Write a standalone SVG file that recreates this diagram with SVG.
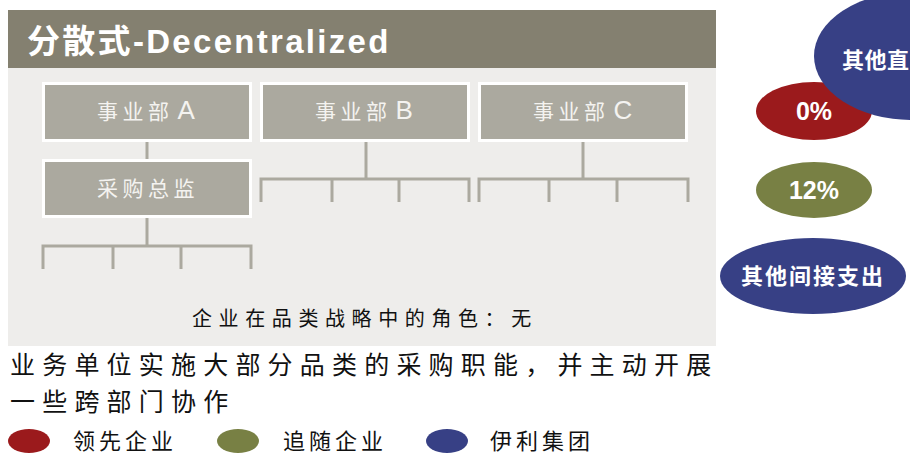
<svg xmlns="http://www.w3.org/2000/svg" width="910" height="454" viewBox="0 0 910 454">
<style>
.box{fill:#ABA99F;stroke:#FFFFFF;stroke-width:3}
.boxt{font-family:"Noto Sans CJK SC","Liberation Sans",sans-serif;font-size:21px;fill:#F4F3F0;letter-spacing:4.5px}
.lat{font-family:"Liberation Sans",sans-serif;font-size:26px;letter-spacing:0}
.ln{stroke:#ABA99F;stroke-width:3;fill:none}
.wb{font-family:"Liberation Sans","Noto Sans CJK SC",sans-serif;font-weight:bold;fill:#FFFFFF}
.bk{font-family:"Noto Sans CJK SC",sans-serif;fill:#111111}
</style>
<rect x="8" y="68" width="708" height="278" fill="#EEEDEB"/>
<rect x="8" y="10" width="708" height="58" fill="#848070"/>
<text x="27" y="53" class="wb" font-size="33" letter-spacing="2.3">分散式-Decentralized</text>

<g id="connectors">
<path class="ln" d="M147 141V160 M147 217V246 M43 246H251 M43 244.5V269 M113 246V269 M181 246V269 M251 244.5V269"/>
<path class="ln" d="M366 141V179 M261 179H469 M261 177.5V202 M332 179V202 M399 179V202 M469 177.5V202"/>
<path class="ln" d="M583 141V179 M479 179H688 M479 177.5V202 M549 179V202 M617 179V202 M688 177.5V202"/>
</g>

<g id="nodeA"><rect class="box" x="43.5" y="83.5" width="207" height="57"/><text class="boxt" x="97" y="119">事业部<tspan class="lat" dx="4">A</tspan></text></g>
<g id="nodeB"><rect class="box" x="261.5" y="83.5" width="207" height="57"/><text class="boxt" x="315" y="119">事业部<tspan class="lat" dx="4">B</tspan></text></g>
<g id="nodeC"><rect class="box" x="479.5" y="83.5" width="207" height="57"/><text class="boxt" x="533" y="119">事业部<tspan class="lat" dx="4">C</tspan></text></g>
<g id="nodeP"><rect class="box" x="43.5" y="160.5" width="207" height="56"/><text class="boxt" x="97" y="196">采购总监</text></g>

<text class="bk" x="192" y="326" font-size="20" letter-spacing="6.6">企业在品类战略中的角色：无</text>
<text class="bk" x="10" y="374" font-size="25" letter-spacing="7.2">业务单位实施大部分品类的采购职能，并主动开展</text>
<text class="bk" x="10" y="410.5" font-size="25" letter-spacing="7.2">一些跨部门协作</text>

<g id="legend">
<ellipse cx="29" cy="441" rx="21" ry="12" fill="#9B1A1C"/>
<text class="bk" x="73" y="449" font-size="22" letter-spacing="4">领先企业</text>
<ellipse cx="238" cy="441" rx="21" ry="12" fill="#788044"/>
<text class="bk" x="283" y="449" font-size="22" letter-spacing="4">追随企业</text>
<ellipse cx="447" cy="441" rx="21" ry="12" fill="#374085"/>
<text class="bk" x="490" y="449" font-size="22" letter-spacing="4">伊利集团</text>
</g>

<g id="red"><ellipse cx="814" cy="111" rx="58" ry="29" fill="#9B1A1C"/><text class="wb" x="814" y="120" font-size="25" text-anchor="middle">0%</text></g>
<g id="bigblue"><ellipse cx="912" cy="56" rx="98" ry="64" fill="#374085"/><text class="wb" x="842" y="68" font-size="22" letter-spacing="0.5">其他直</text></g>
<g id="green"><ellipse cx="814" cy="190" rx="58" ry="28" fill="#788044"/><text class="wb" x="814" y="199" font-size="25" text-anchor="middle">12%</text></g>
<g id="blue2"><ellipse cx="813" cy="276" rx="93" ry="38" fill="#374085"/><text class="wb" x="813" y="284" font-size="22" letter-spacing="2" text-anchor="middle">其他间接支出</text></g>
</svg>
